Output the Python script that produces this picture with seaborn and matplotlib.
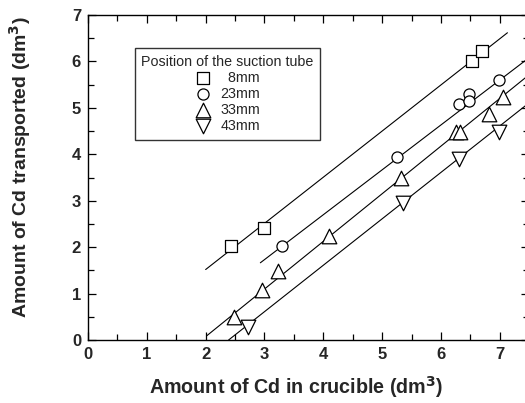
import numpy as np
import pandas as pd
import matplotlib
matplotlib.use("Agg")
import matplotlib.pyplot as plt
import seaborn as sns
from matplotlib.ticker import MultipleLocator

sns.set_theme(style="ticks")
plt.rcParams["font.family"] = ["Liberation Sans", "DejaVu Sans"]

# Measured points for each suction-tube position (dm^3)
positions = ["  8mm", "23mm", "33mm", "43mm"]
x_8 = [2.43, 3.00, 6.53, 6.70]
y_8 = [2.03, 2.42, 6.01, 6.23]
x_23 = [3.29, 5.26, 6.30, 6.48, 6.48, 6.99]
y_23 = [2.03, 3.94, 5.08, 5.29, 5.14, 5.60]
x_33 = [2.48, 2.95, 3.23, 4.10, 5.32, 6.26, 6.32, 6.82, 7.05]
y_33 = [0.50, 1.08, 1.49, 2.23, 3.50, 4.48, 4.48, 4.86, 5.23]
x_43 = [2.72, 5.36, 6.30, 6.99]
y_43 = [0.29, 2.96, 3.89, 4.47]

# Linear fits: slope, intercept and drawn x-range
fit_slope = [0.994, 0.967, 1.026, 1.000]
fit_intercept = [-0.47, -1.17, -1.98, -2.39]
fit_xstart = [2.00, 2.93, 2.02, 2.39]
fit_xend = [7.13, 7.50, 7.50, 7.50]

markers = ["s", "o", "^", "v"]
marker_sizes = [8.0, 8.0, 10.5, 10.5]

xs = [x_8, x_23, x_33, x_43]
ys = [y_8, y_23, y_33, y_43]

fig = plt.figure(figsize=(5.25, 4.03), dpi=100)
ax = fig.add_axes([0.1676, 0.1563, 1.008 - 0.1676, 0.9628 - 0.1563])

for i in range(4):
    xl = np.array([fit_xstart[i], fit_xend[i]])
    line_df = pd.DataFrame({"x": xl, "y": fit_slope[i] * xl + fit_intercept[i]})
    sns.lineplot(data=line_df, x="x", y="y", ax=ax, color="black", lw=0.8,
                 legend=False, zorder=2)

for i in range(4):
    df = pd.DataFrame({"x": xs[i], "y": ys[i]})
    sns.scatterplot(data=df, x="x", y="y", ax=ax, marker=markers[i],
                    s=marker_sizes[i] ** 2, facecolor="white",
                    edgecolor="black", linewidth=0.9, label=positions[i],
                    zorder=3)

ax.set_xlim(0, 7.5)
ax.set_ylim(0, 7)
ax.xaxis.set_major_locator(MultipleLocator(1))
ax.xaxis.set_minor_locator(MultipleLocator(0.5))
ax.yaxis.set_major_locator(MultipleLocator(1))
ax.yaxis.set_minor_locator(MultipleLocator(0.5))
ax.tick_params(which="both", direction="in", top=True, right=True,
               color="black", width=0.9)
ax.tick_params(which="major", length=6, labelsize=12, pad=5)
ax.tick_params(which="minor", length=4)
for lbl in ax.get_xticklabels() + ax.get_yticklabels():
    lbl.set_fontweight("bold")
for sp in ax.spines.values():
    sp.set_color("black")
    sp.set_linewidth(1.0)

ax.set_xlabel("Amount of Cd in crucible (dm$^\\mathbf{3}$)", fontsize=14.2,
              fontweight="bold")
ax.set_ylabel("Amount of Cd transported (dm$^\\mathbf{3}$)", fontsize=14,
              fontweight="bold")
ax.xaxis.set_label_coords(0.472, -0.105)
ax.yaxis.set_label_coords(-0.125, 0.531)

leg = ax.legend(title="Position of the suction tube", loc="upper left",
                bbox_to_anchor=(0.106, 0.898), fontsize=10.3, title_fontsize=10.3,
                frameon=True, fancybox=False, edgecolor="black",
                handletextpad=0.6, labelspacing=0.15, borderpad=0.45,
                borderaxespad=0, handlelength=1.2, handleheight=0.7,
                alignment="center")
leg.get_frame().set_linewidth(1.0)

fig.savefig("out.png", dpi=100)
